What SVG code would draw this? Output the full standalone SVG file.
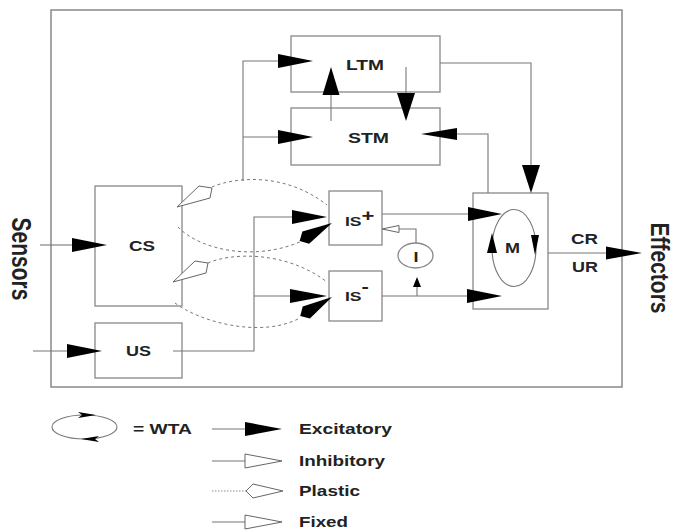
<svg xmlns="http://www.w3.org/2000/svg" width="673" height="531" viewBox="0 0 673 531">
<style>
  .box { fill: none; stroke: #888; stroke-width: 1.3; }
  .frame { fill: none; stroke: #888; stroke-width: 1.5; }
  .ln { fill: none; stroke: #777; stroke-width: 1.1; }
  .dash { fill: none; stroke: #777; stroke-width: 1; stroke-dasharray: 3 3; }
  .dot { fill: none; stroke: #888; stroke-width: 1; stroke-dasharray: 1.5 1.5; }
  .exc { fill: #000; stroke: none; }
  .open { fill: #fff; stroke: #666; stroke-width: 1; }
  .lbl { font-family: "Liberation Sans", Arial, sans-serif; font-weight: bold; fill: #222; }
</style>
<defs>
  <polygon id="kite" points="0,0 -30,-7 -37,0 -30,7"/>
</defs>

<rect id="frame" class="frame" x="51" y="10" width="571" height="377"/>

<g id="sensors-label">
  <text class="lbl" font-size="21" text-anchor="middle" transform="translate(12,259) scale(1.3,1) rotate(90)">Sensors</text>
</g>
<g id="effectors-label">
  <text class="lbl" font-size="21" text-anchor="middle" transform="translate(651,268) scale(1.22,1) rotate(90)">Effectors</text>
</g>

<g id="LTM">
  <rect class="box" x="291" y="36" width="149" height="56"/>
  <text class="lbl" font-size="15" x="365" y="70" text-anchor="middle" textLength="38" lengthAdjust="spacingAndGlyphs">LTM</text>
</g>
<g id="STM">
  <rect class="box" x="291" y="108" width="149" height="57"/>
  <text class="lbl" font-size="15" x="368.5" y="143" text-anchor="middle" textLength="41" lengthAdjust="spacingAndGlyphs">STM</text>
</g>
<g id="CS">
  <rect class="box" x="95" y="186" width="87" height="120"/>
  <text class="lbl" font-size="15" x="142" y="251" text-anchor="middle" textLength="26" lengthAdjust="spacingAndGlyphs">CS</text>
</g>
<g id="US">
  <rect class="box" x="95" y="323" width="87" height="55"/>
  <text class="lbl" font-size="15" x="138.5" y="356" text-anchor="middle" textLength="25" lengthAdjust="spacingAndGlyphs">US</text>
</g>
<g id="IS-plus">
  <rect class="box" x="329" y="191" width="53" height="54"/>
  <text class="lbl" font-size="13.5" transform="translate(345,226) scale(1.3,1)">IS<tspan font-size="17" dy="-5">+</tspan></text>
</g>
<g id="IS-minus">
  <rect class="box" x="329" y="271" width="53" height="50"/>
  <text class="lbl" font-size="13.5" transform="translate(345,301) scale(1.3,1)">IS<tspan font-size="17" dy="-9">-</tspan></text>
</g>
<g id="I">
  <ellipse class="box" cx="415.5" cy="255.5" rx="17.5" ry="12.5"/>
  <text class="lbl" font-size="14" x="416" y="262" text-anchor="middle" textLength="5" lengthAdjust="spacingAndGlyphs">I</text>
</g>
<g id="M">
  <rect class="box" x="473" y="193" width="75" height="116"/>
  <ellipse class="ln" cx="514" cy="248" rx="22" ry="38.5"/>
  <polygon class="exc" points="492,233 487,253 497,253"/>
  <polygon class="exc" points="535,255 531,235 539,235"/>
  <text class="lbl" font-size="14" x="512.5" y="253" text-anchor="middle" textLength="15" lengthAdjust="spacingAndGlyphs">M</text>
</g>
<g id="response-labels">
  <text class="lbl" font-size="14" x="584.5" y="244" text-anchor="middle" textLength="27" lengthAdjust="spacingAndGlyphs">CR</text>
  <text class="lbl" font-size="14" x="585" y="272" text-anchor="middle" textLength="26" lengthAdjust="spacingAndGlyphs">UR</text>
</g>

<g id="connectors">
  <!-- Sensors to CS -->
  <line class="ln" x1="40" y1="245" x2="72" y2="245"/>
  <polygon class="exc" points="107,245 72,238 72,252"/>
  <!-- Sensors to US -->
  <line class="ln" x1="33" y1="351" x2="67" y2="351"/>
  <polygon class="exc" points="102,351 67,344 67,358"/>
  <!-- US to IS+ / IS- -->
  <polyline class="ln" points="173,351 254,351 254,217 292,217"/>
  <polygon class="exc" points="327,217 292,210 292,224"/>
  <line class="ln" x1="254" y1="296" x2="290" y2="296"/>
  <polygon class="exc" points="327,296 290,289 290,303"/>
  <!-- CS to LTM / STM -->
  <polyline class="ln" points="243,181 243,61 278,61"/>
  <polygon class="exc" points="313,61 278,54 278,68"/>
  <line class="ln" x1="243" y1="137" x2="278" y2="137"/>
  <polygon class="exc" points="313,137 278,130 278,144"/>
  <!-- STM up to LTM -->
  <line class="ln" x1="331" y1="121" x2="331" y2="95"/>
  <polygon class="exc" points="331,67 322.5,95 339.5,95"/>
  <!-- LTM down to STM -->
  <line class="ln" x1="406" y1="67" x2="406" y2="93"/>
  <polygon class="exc" points="406,121 397,93 415,93"/>
  <!-- LTM to M -->
  <polyline class="ln" points="440,63 531,63 531,165"/>
  <polygon class="exc" points="531,193 522,165 540,165"/>
  <!-- M to STM -->
  <polyline class="ln" points="488,193 488,134 457,134"/>
  <polygon class="exc" points="421,134 457,128 457,140"/>
  <!-- IS+ to M -->
  <line class="ln" x1="382" y1="214" x2="468" y2="214"/>
  <polygon class="exc" points="502,214 468,207 468,221"/>
  <!-- IS- to M -->
  <line class="ln" x1="382" y1="296" x2="467" y2="296"/>
  <polygon class="exc" points="502,296 467,289 467,303"/>
  <!-- IS- line to I -->
  <line class="ln" x1="417" y1="296" x2="417" y2="287"/>
  <polygon class="exc" points="417,277 413,287 421,287"/>
  <!-- I to IS+ (inhibitory) -->
  <polyline class="ln" points="416,243 416,229 399,229"/>
  <polygon class="open" points="382,229 399,225.5 399,232.5"/>
  <!-- M to Effectors -->
  <line class="ln" x1="548" y1="253" x2="606" y2="253"/>
  <polygon class="exc" points="642,253 606,246.5 606,259.5"/>
  <!-- plastic dashed paths -->
  <path class="dash" d="M212,187 C235,177 285,172 327,205"/>
  <path class="dash" d="M178,227 C200,250 255,262 302,241"/>
  <path class="dash" d="M208,263 C230,253 285,250 327,282"/>
  <path class="dash" d="M175,303 C200,322 260,338 298,319"/>
  <polygon class="open" points="177,207 199,186 212,188 210,198"/>
  <polygon class="open" points="173,282 195,261 208,263 206,273"/>
  <use href="#kite" class="exc" transform="translate(332,223) rotate(-29)"/>
  <use href="#kite" class="exc" transform="translate(332,297) rotate(-31)"/>
</g>

<g id="legend">
  <ellipse class="ln" cx="84.5" cy="427" rx="32.5" ry="12"/>
  <polygon class="exc" points="96,415 78,412 82,415 78,418"/>
  <polygon class="exc" points="81,439 99,436 95,439 99,442"/>
  <text class="lbl" font-size="15" x="133" y="434" textLength="59" lengthAdjust="spacingAndGlyphs">= WTA</text>

  <line class="ln" x1="212" y1="429" x2="245" y2="429"/>
  <polygon class="exc" points="282,429 245,422 245,436"/>
  <text class="lbl" font-size="15" x="299" y="434" textLength="93" lengthAdjust="spacingAndGlyphs">Excitatory</text>

  <line class="ln" x1="212" y1="461" x2="245" y2="461"/>
  <polygon class="open" points="282,461 245,454 245,468"/>
  <text class="lbl" font-size="15" x="299" y="466" textLength="86" lengthAdjust="spacingAndGlyphs">Inhibitory</text>

  <line class="dot" x1="212" y1="491" x2="246" y2="491"/>
  <polygon class="open" points="246,491 253,484 283,491 253,498"/>
  <text class="lbl" font-size="15" x="299" y="496" textLength="61" lengthAdjust="spacingAndGlyphs">Plastic</text>

  <line class="ln" x1="212" y1="522" x2="245" y2="522"/>
  <polygon class="open" points="282,522 245,515 245,529"/>
  <text class="lbl" font-size="15" x="299" y="527" textLength="49" lengthAdjust="spacingAndGlyphs">Fixed</text>
</g>
</svg>
